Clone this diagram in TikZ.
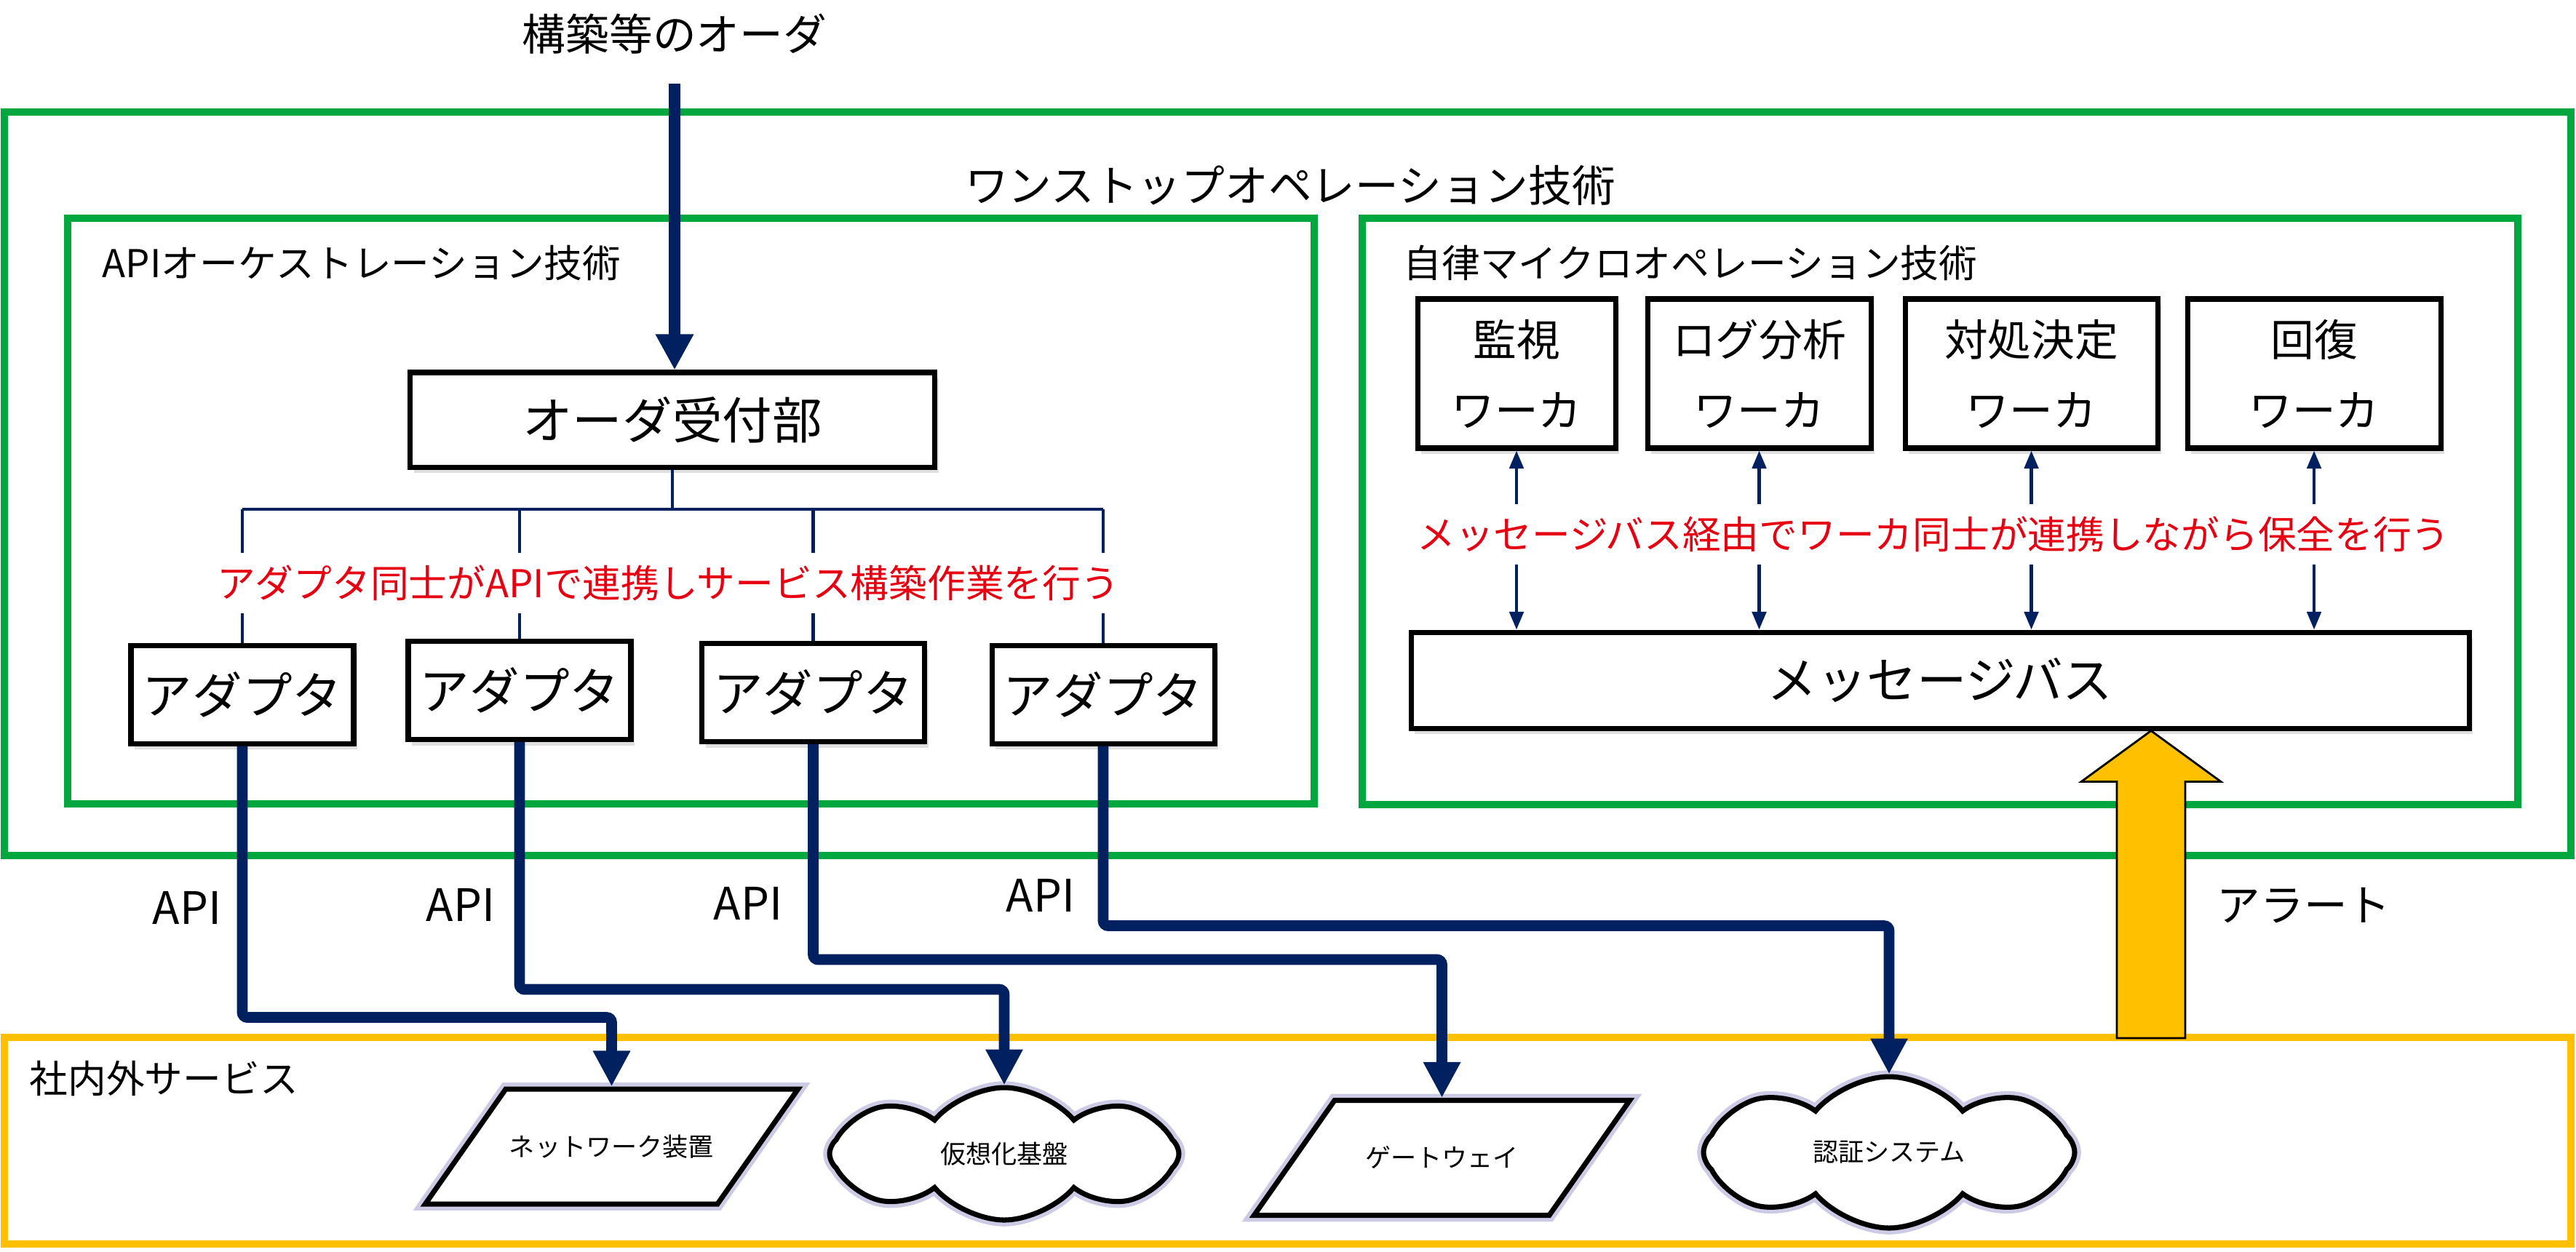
\documentclass[tikz,border=0pt]{standalone}
\usepackage{fontspec}
\setmainfont{Noto Sans CJK JP}
\usepackage{tikz}
\usetikzlibrary{positioning, arrows.meta, calc, shadows, shapes.geometric, shapes.symbols}
\definecolor{OpGreen}{RGB}{0,166,62}
\definecolor{LinkNavy}{RGB}{0,32,96}
\definecolor{SvcAmber}{RGB}{255,192,0}
\definecolor{NoteRed}{RGB}{230,0,18}
\definecolor{GlowViolet}{RGB}{90,80,170}
\tikzset{
  frame/.style={draw=OpGreen, line width=2.6pt, inner sep=0pt},
  svcframe/.style={draw=SvcAmber, line width=2.6pt, inner sep=0pt},
  boxlabel/.style={font=\fontsize{15pt}{18pt}\selectfont, anchor=west, inner sep=0pt},
  bigtxt/.style={font=\fontsize{17pt}{20pt}\selectfont, inner sep=0pt},
  apitxt/.style={font=\fontsize{17.5pt}{20pt}\selectfont, inner sep=0pt},
  unitbox/.style={draw=black, line width=2pt, fill=white, inner sep=0pt, align=center,
    drop shadow={opacity=0.25, shadow xshift=0.5mm, shadow yshift=-0.8mm},
    font=\fontsize{19.5pt}{23pt}\selectfont},
  wkbox/.style={unitbox, minimum height=2.05cm, font=\fontsize{17pt}{27.6pt}\selectfont},
  svcshape/.style={draw=black, line width=2pt, fill=white, inner sep=0pt,
    preaction={draw=GlowViolet, line width=5pt, opacity=0.3},
    font=\fontsize{10pt}{12pt}\selectfont},
  para/.style={svcshape, trapezium, trapezium left angle=55, trapezium right angle=125,
    align=center, text height=0.31cm, text depth=0.05cm, inner xsep=0pt, inner ysep=0.61cm},
  puff/.style={svcshape, cloud, cloud puffs=8, cloud puff arc=100, cloud ignores aspect},
  note/.style={text=NoteRed, fill=white, font=\fontsize{15pt}{18pt}\selectfont,
    inner xsep=0pt, inner ysep=0.17cm},
  tree/.style={LinkNavy, line width=1.2pt},
  busarr/.style={{Triangle[length=7pt,width=5.5pt]}-{Triangle[length=7pt,width=5.5pt]},
    LinkNavy, line width=1.2pt},
  orderarr/.style={-{Triangle[length=0.49cm,width=0.49cm]}, LinkNavy, line width=4.5pt},
  apiarr/.style={-{Triangle[length=0.49cm,width=0.48cm]}, LinkNavy, line width=4.2pt,
    rounded corners=2pt},
  alertarr/.style={draw=black, line width=0.8pt, fill=SvcAmber},
}

\begin{document}
\begin{tikzpicture}
  \useasboundingbox (0,0) rectangle (35.4,-17.2);

  % frames
  \node[frame, minimum width=35.27cm, minimum height=10.22cm] (onestop) at (17.695,-6.65) {};
  \node[frame, minimum width=17.13cm, minimum height=8.05cm] (apibox) at (9.495,-7.025) {};
  \node[frame, minimum width=15.88cm, minimum height=8.06cm] (autobox) at (26.66,-7.03) {};
  \node[svcframe, minimum width=35.27cm, minimum height=2.84cm] (svc) at (17.695,-15.68) {};

  \node[bigtxt] (order) at (9.27,-0.47) {構築等のオーダ};
  \node[bigtxt] (onestoplbl) at (17.73,-2.55) {ワンストップオペレーション技術};
  \node[boxlabel] (apilbl) at (1.40,-3.61) {APIオーケストレーション技術};
  \node[boxlabel] (autolbl) at (19.28,-3.61) {自律マイクロオペレーション技術};
  \node[boxlabel] (svclbl) at (0.40,-14.82) {社内外サービス};

  % API orchestration
  \node[unitbox, minimum width=7.21cm, minimum height=1.30cm] (obox) at (9.24,-5.77) {オーダ受付部};
  \foreach \x/\y [count=\k] in {3.33/-9.545, 7.14/-9.49, 11.175/-9.52, 15.16/-9.545}
    \node[unitbox, minimum width=3.06cm, minimum height=1.35cm] (adp\k) at (\x,\y) {アダプタ};

  \draw[orderarr, shorten <=0.4cm] (order.south) -- (order.south |- obox.north);
  \draw[tree] (obox.south) -- (obox.south |- 0,-7.0) coordinate (bar);
  \draw[tree] (adp1.north |- bar) -- (adp4.north |- bar);
  \foreach \k in {1,...,4}
    \draw[tree] (adp\k.north |- bar) -- (adp\k.north);
  \node[note] (adpnote) at (9.18,-8.01) {アダプタ同士がAPIで連携しサービス構築作業を行う};

  % autonomous micro operation
  \foreach \x/\w/\t [count=\k] in {20.84/2.72/監視, 24.175/3.07/ログ分析, 27.915/3.47/対処決定, 31.80/3.48/回復}
    \node[wkbox, minimum width=\w cm] (wk\k) at (\x,-5.135) {\t\\ワーカ};
  \node[unitbox, minimum width=14.54cm, minimum height=1.32cm] (bus) at (26.66,-9.35) {メッセージバス};
  \foreach \k in {1,...,4}
    \draw[busarr] (wk\k.south) -- (wk\k.south |- bus.north);
  \node[note] (wknote) at (26.57,-7.34) {メッセージバス経由でワーカ同士が連携しながら保全を行う};

  % services
  \node[para, text width=2.91cm] (net) at (8.405,-15.76) {ネットワーク装置};
  \node[puff, minimum width=4.8cm, minimum height=1.82cm] (virt) at (13.80,-15.86) {仮想化基盤};
  \node[para, text width=2.95cm] (gw) at (19.815,-15.915) {ゲートウェイ};
  \node[puff, minimum width=5.1cm, minimum height=2.08cm] (auth) at (25.96,-15.84) {認証システム};

  \foreach \k/\d/\t in {1/-3.73/net, 2/-3.40/virt, 3/-2.96/gw, 4/-2.47/auth}
    \draw[apiarr] (adp\k.south) -- ++(0,\d) -| (\t.north);
  \foreach \x/\y [count=\k] in {2.57/-12.48, 6.33/-12.44, 10.28/-12.42, 14.30/-12.31}
    \node[apitxt] (api\k) at (\x,\y) {API};

  % alert
  \coordinate (alertfoot) at (29.56,-14.27);
  \coordinate (alerttip) at (alertfoot |- bus.south);
  \draw[alertarr] ($(alertfoot)+(-0.47,0)$) -- ($(alerttip)+(-0.47,-0.7)$)
    -- ($(alerttip)+(-0.96,-0.7)$) -- (alerttip) -- ($(alerttip)+(0.96,-0.7)$)
    -- ($(alerttip)+(0.47,-0.7)$) -- ($(alertfoot)+(0.47,0)$) -- cycle;
  \node[bigtxt] (alertlbl) at (31.66,-12.45) {アラート};
\end{tikzpicture}
\end{document}
